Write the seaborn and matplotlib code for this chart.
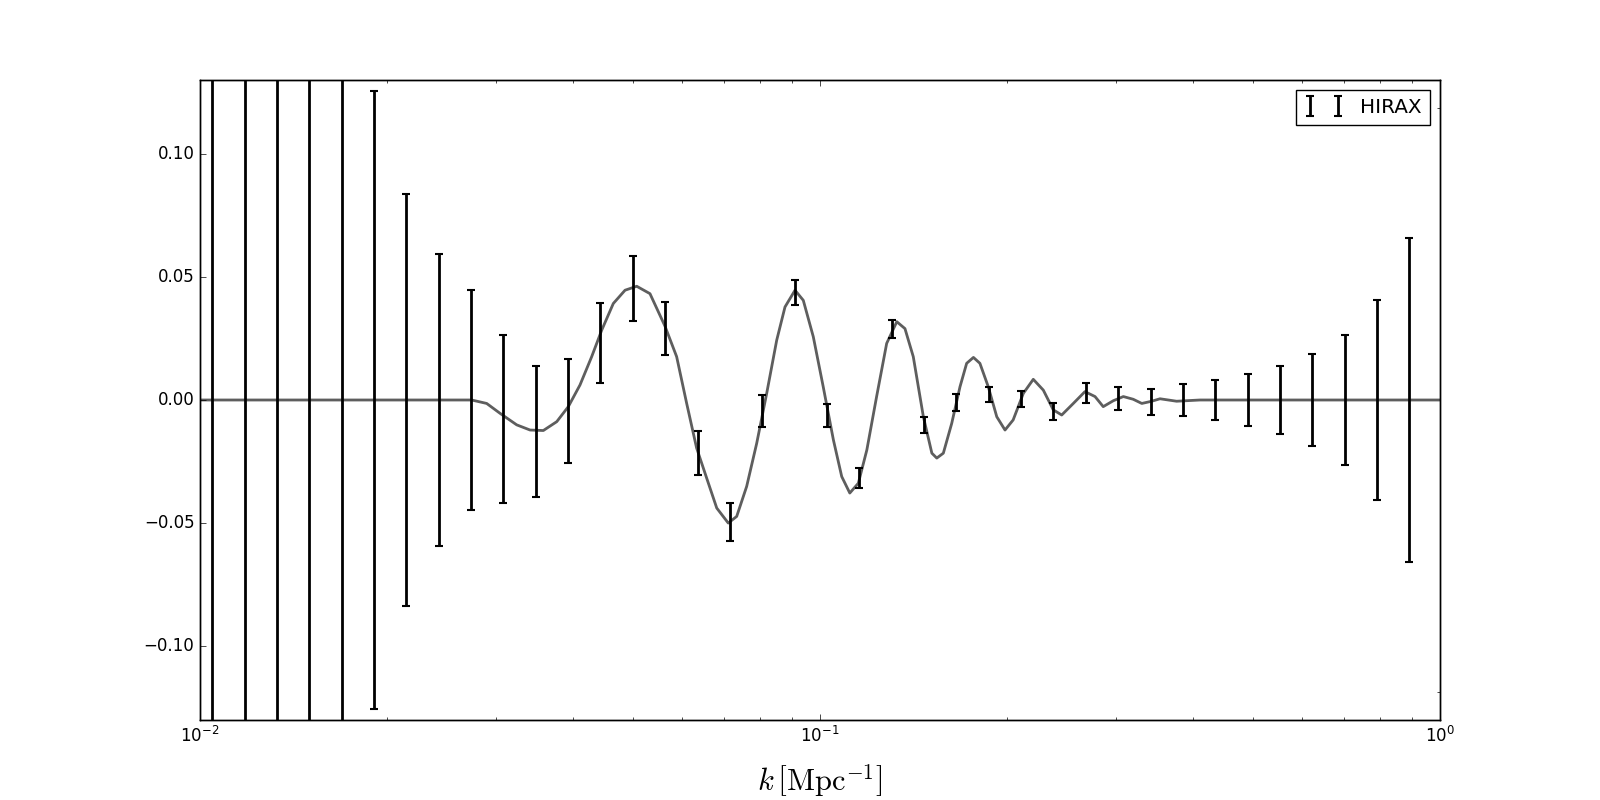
import numpy as np
import matplotlib
matplotlib.use("Agg")
import matplotlib.pyplot as plt
import seaborn as sns

# k-bins of the HIRAX forecast points [Mpc^-1]
k_bins = [0.01046, 0.01180, 0.01330, 0.01500, 0.01692, 0.01908, 0.02151, 0.02426,
          0.02736, 0.03085, 0.03479, 0.03923, 0.04424, 0.04989, 0.05626, 0.06345,
          0.07155, 0.08069, 0.09099, 0.1026, 0.1157, 0.1305, 0.1472, 0.1660,
          0.1872, 0.2111, 0.2380, 0.2684, 0.3027, 0.3414, 0.3850, 0.4341,
          0.4896, 0.5521, 0.6226, 0.7021, 0.7918, 0.8929]
bao_points = [0.0, 0.0, 0.0, 0.0, 0.0, 0.0, 0.0, 0.0,
              0.0, -0.0077, -0.0129, -0.0045, 0.0231, 0.0453, 0.0291, -0.0214,
              -0.0495, -0.0045, 0.0437, -0.0063, -0.0317, 0.029, -0.0103, -0.001,
              0.0021, 0.0005, -0.0047, 0.0028, 0.0005, -0.0008, 0.0, 0.0,
              0.0, 0.0, 0.0, 0.0, 0.0, 0.0]
bao_errors = [1.0, 1.0, 1.0, 1.0, 1.0, 0.1255, 0.0835, 0.0595,
              0.0445, 0.034, 0.0267, 0.021, 0.0163, 0.0133, 0.0109, 0.009,
              0.0076, 0.0065, 0.0052, 0.0047, 0.004, 0.0037, 0.0032, 0.0033,
              0.003, 0.0033, 0.0034, 0.004, 0.0046, 0.0052, 0.0065, 0.008,
              0.0106, 0.0138, 0.0186, 0.0265, 0.0405, 0.066]

# model wiggle curve
curve_k = [0.01, 0.02742, 0.02900, 0.03047, 0.03242, 0.03407, 0.03579, 0.03762,
           0.03927, 0.04101, 0.04283, 0.04446, 0.04641, 0.04848, 0.05063, 0.05318,
           0.05623, 0.05872, 0.06095, 0.06324, 0.06566, 0.06815, 0.07113, 0.07339,
           0.07616, 0.07905, 0.08204, 0.08515, 0.08781, 0.09114, 0.09398, 0.09754,
           0.1012, 0.1051, 0.1084, 0.1117, 0.1153, 0.1190, 0.1234, 0.1281,
           0.1330, 0.1371, 0.1414, 0.1468, 0.1515, 0.1543, 0.1581, 0.1631,
           0.1682, 0.1724, 0.1768, 0.1811, 0.1868, 0.1928, 0.1988, 0.2049,
           0.2128, 0.2208, 0.2292, 0.2378, 0.2454, 0.2562, 0.2675, 0.2777,
           0.2863, 0.2972, 0.3085, 0.3200, 0.3304, 0.3428, 0.3535, 0.3760,
           0.4101, 1.0]
curve_val = [0.0, 0.0, -0.0014, -0.0054, -0.0101, -0.0122, -0.0124, -0.0088,
             -0.0027, 0.0061, 0.0176, 0.0284, 0.0392, 0.0446, 0.0462, 0.0432,
             0.0300, 0.0176, -0.0014, -0.0195, -0.0318, -0.0439, -0.0500, -0.0473,
             -0.0351, -0.0176, 0.0027, 0.0243, 0.0378, 0.0446, 0.0405, 0.0257,
             0.0054, -0.0162, -0.0311, -0.0378, -0.0338, -0.0203, 0.0014, 0.0230,
             0.0318, 0.0290, 0.0176, -0.0068, -0.0216, -0.0236, -0.0216, -0.0095,
             0.0054, 0.0149, 0.0173, 0.0149, 0.0054, -0.0068, -0.0122, -0.0081,
             0.0027, 0.0084, 0.0040, -0.0040, -0.0061, -0.0014, 0.0034, 0.0014,
             -0.0027, -0.0003, 0.0014, 0.0003, -0.0014, -0.0005, 0.0005, -0.0005,
             0.0, 0.0]

plt.style.use("classic")
plt.rcParams["figure.facecolor"] = "white"
plt.rcParams["savefig.facecolor"] = "white"

fig, ax = plt.subplots(figsize=(16, 8), dpi=100)

sns.lineplot(x=curve_k, y=curve_val, ax=ax, color="#5e5e5e", linewidth=2, zorder=2)
ax.errorbar(k_bins, bao_points, yerr=bao_errors, fmt="none", ecolor="k",
            elinewidth=2, capsize=3, capthick=1.5, label="HIRAX", zorder=3)

ax.set_xscale("log")
ax.set_xlim(0.01, 1.0)
ax.set_ylim(-0.13, 0.13)
ax.set_yticks([-0.10, -0.05, 0.0, 0.05, 0.10])
ax.set_xlabel(r"$k\,\left[\mathrm{Mpc}^{-1}\right]$", fontsize=22, labelpad=12)
ax.set_ylabel("")
ax.legend(loc="upper right", numpoints=2, fontsize="large")

# twin axis ticks on the right side
ax2 = ax.twinx()
ax2.set_ylim(-0.13, 0.13)
ax2.set_yticks([])
ax2.set_yticks([-0.1188, 0.1188], minor=True)
ax2.tick_params(axis="y", which="minor", direction="in", length=2)

fig.savefig("out.png", dpi=100)
